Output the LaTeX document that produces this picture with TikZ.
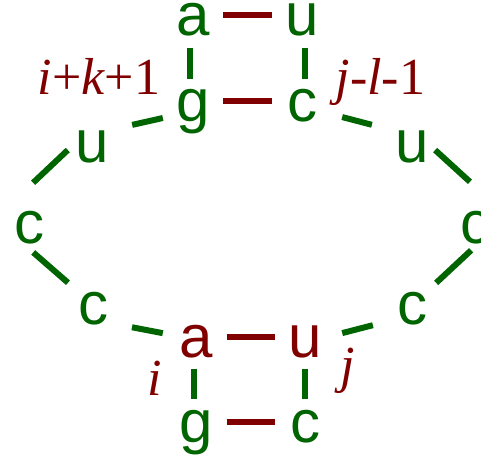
\documentclass[tikz,border=0pt]{standalone}
\usepackage{fontspec}
\setmainfont{Liberation Serif}
\setsansfont{Liberation Sans}
\usepackage{xcolor}
\definecolor{stemgreen}{RGB}{0,100,0}
\definecolor{pairred}{RGB}{128,0,0}

\begin{document}
\begin{tikzpicture}[
    x=1pt, y=-1pt,
    base/.style={circle, inner sep=0pt, minimum size=60pt, text height=41pt, text depth=0pt,
        font=\sffamily\fontsize{60}{60}\selectfont, text=stemgreen},
    paired/.style={base, text=pairred},
    pair/.style={line width=6pt, draw=pairred},
    bond/.style={line width=6pt, draw=stemgreen},
    rung/.style={bond, shorten <=2pt, shorten >=-7.5pt},
    index/.style={anchor=base, text=pairred, font=\fontsize{52}{52}\selectfont}
]

\useasboundingbox (0,0) rectangle (481,457);

% Upper stack
\node[base] (ta) at (193,15.5) {a};
\node[base] (tu) at (302,15.5) {u};
\node[base] (tg) at (193,101.5) {g};
\node[base] (tc) at (302,101.5) {c};

% Loop
\node[base] (lu) at (92.5,142.5) {u};
\node[base] (lc) at (29,222.5) {c};
\node[base] (llc) at (93.5,303.5) {c};
\node[base] (ru) at (412,142.5) {u};
\node[base] (rc) at (475.5,222.5) {c};
\node[base] (rlc) at (412.5,303.5) {c};

% Lower stack
\node[paired] (ba) at (196.5,336.5) {a};
\node[paired] (bu) at (305,336.5) {u};
\node[base] (bg) at (196.5,421.5) {g};
\node[base] (bc) at (305,421.5) {c};

% Indices
\node[index] (ik) at (99,95) {{\itshape i}+{\itshape k}+1};
\node[index] (jl) at (380.5,95) {{\itshape j}-{\itshape l}-1};
\node[index] (ii) at (155,395) {\itshape i};
\node[index] (jj) at (347.5,382) {\itshape j};

% Base pairs
\draw[pair] (ta) -- (tu);
\draw[pair] (tg) -- (tc);
\draw[pair] (ba) -- (bu);
\draw[pair] (bg) -- (bc);

% Stacking
\draw[rung] (ta.264) -- (tg.96);
\draw[rung] (tu.276) -- (tc.84);
\draw[rung] (ba.266) -- (bg.94);
\draw[rung] (bu) -- (bc);

% Loop backbone
\draw[bond, shorten <=13.6pt, shorten >=4.4pt] (lu.29) -- (tg.211);
\draw[bond, shorten <=15pt, shorten >=-4.8pt] (lc.103) -- (lu.201);
\draw[bond, shorten >=2.7pt] (lc.278) -- (llc.141);
\draw[bond, shorten <=16.7pt, shorten >=3.7pt] (llc.317) -- (ba.175);
\draw[bond, shorten <=13pt, shorten >=13.9pt] (tc.336) -- (ru.152);
\draw[bond, shorten <=-6.3pt, shorten >=16.7pt] (ru.337) -- (rc.77);
\draw[bond, shorten <=-2.6pt, shorten >=1.2pt] (rc.258) -- (rlc.41);
\draw[bond, shorten <=15.7pt, shorten >=7.3pt] (rlc.216) -- (bu.3);

\end{tikzpicture}
\end{document}
